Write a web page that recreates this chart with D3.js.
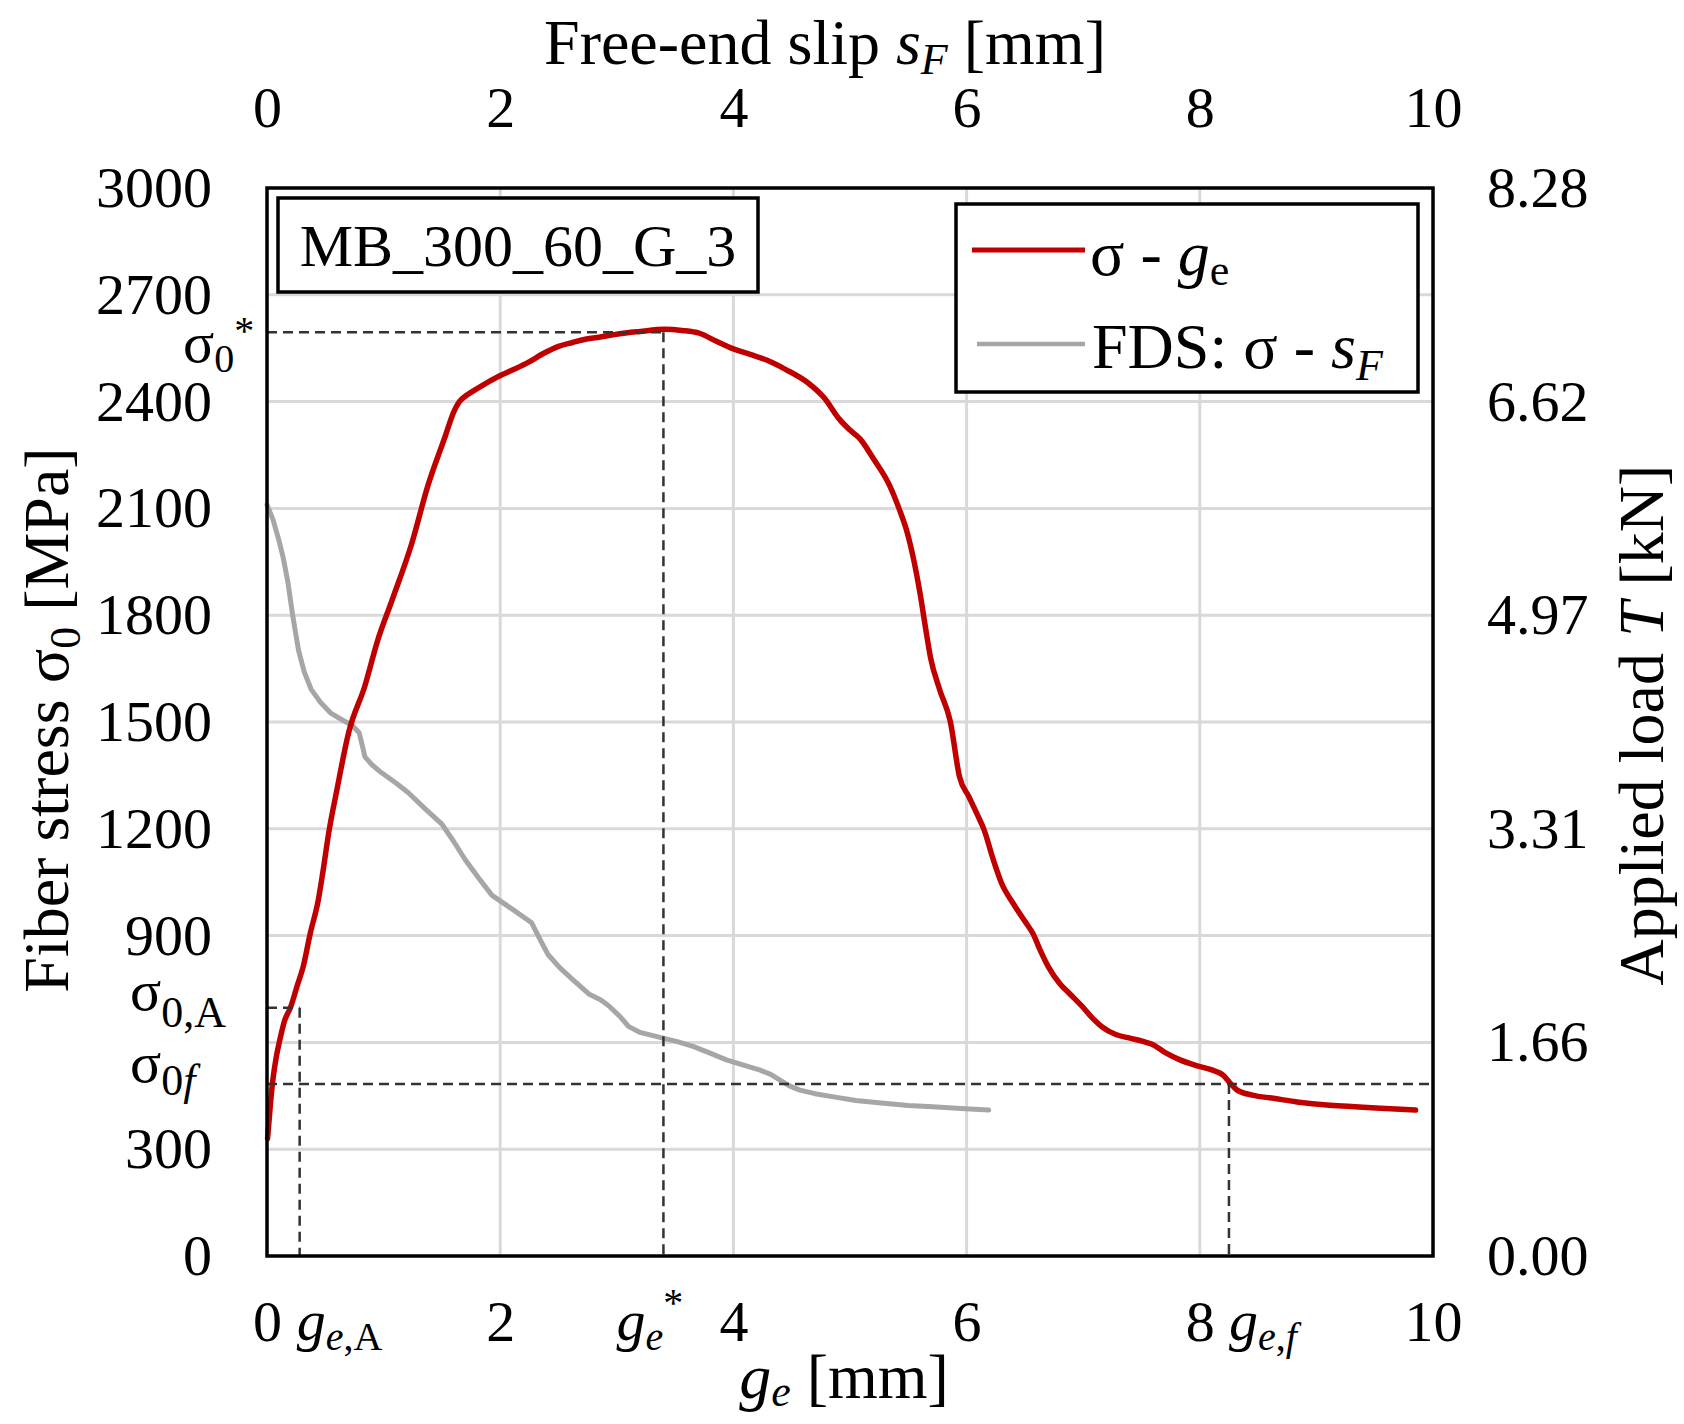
<!DOCTYPE html>
<html>
<head>
<meta charset="utf-8">
<script src="https://cdn.jsdelivr.net/npm/d3@7"></script>
<style>
  body { margin: 0; background: #fff; }
  text { font-family: 'Liberation Serif', 'Times New Roman', serif; fill: #000; }
  .tick text { font-size: 58px; }
</style>
</head>
<body>
<svg id="chart" width="1684" height="1424"></svg>
<script>
// sigma - ge curve (red)
var geVals = [0.005, 0.03, 0.05, 0.08, 0.11, 0.15, 0.20, 0.26, 0.31, 0.37, 0.44, 0.48, 0.53, 0.60, 0.70, 0.84, 0.95, 1.07, 1.24, 1.38, 1.53, 1.60, 1.65, 1.70, 1.76, 1.87, 1.98, 2.10, 2.24, 2.37, 2.50, 2.62, 2.73, 2.87, 3.01, 3.20, 3.41, 3.56, 3.71, 3.85, 4.00, 4.15, 4.29, 4.45, 4.63, 4.78, 4.91, 5.00, 5.09, 5.20, 5.34, 5.42, 5.49, 5.55, 5.60, 5.65, 5.69, 5.77, 5.86, 5.94, 6.02, 6.09, 6.15, 6.23, 6.30, 6.40, 6.50, 6.57, 6.63, 6.70, 6.80, 6.88, 7.00, 7.08, 7.16, 7.28, 7.40, 7.52, 7.59, 7.70, 7.83, 7.97, 8.11, 8.20, 8.27, 8.32, 8.45, 8.63, 8.85, 9.09, 9.30, 9.55, 9.85];
var geStress = [330, 430, 494, 560, 607, 660, 697, 760, 812, 905, 1000, 1080, 1190, 1310, 1470, 1602, 1730, 1840, 2000, 2164, 2304, 2370, 2400, 2415, 2428, 2450, 2470, 2488, 2510, 2535, 2555, 2566, 2575, 2582, 2590, 2597, 2603, 2600, 2592, 2570, 2548, 2532, 2516, 2490, 2455, 2410, 2350, 2320, 2294, 2240, 2164, 2100, 2033, 1950, 1863, 1760, 1682, 1590, 1502, 1345, 1290, 1241, 1197, 1112, 1047, 990, 940, 905, 860, 813, 765, 738, 698, 668, 644, 622, 612, 602, 595, 572, 551, 535, 522, 508, 482, 466, 452, 443, 432, 424, 420, 415, 410];

// FDS: sigma - sF curve (grey)
var sfVals = [0.00, 0.01, 0.05, 0.10, 0.14, 0.18, 0.22, 0.27, 0.32, 0.38, 0.46, 0.55, 0.65, 0.73, 0.79, 0.82, 0.84, 0.90, 0.98, 1.10, 1.21, 1.35, 1.50, 1.60, 1.70, 1.82, 1.93, 2.10, 2.27, 2.34, 2.41, 2.51, 2.61, 2.76, 2.86, 2.93, 3.03, 3.10, 3.20, 3.37, 3.52, 3.66, 3.80, 3.94, 4.08, 4.23, 4.32, 4.40, 4.48, 4.57, 4.70, 4.86, 5.05, 5.29, 5.50, 5.71, 5.95, 6.19];
var sfStress = [2110, 2102, 2070, 2013, 1960, 1891, 1800, 1702, 1640, 1591, 1555, 1524, 1505, 1491, 1470, 1430, 1402, 1380, 1358, 1330, 1302, 1258, 1213, 1165, 1113, 1060, 1013, 975, 936, 890, 847, 810, 780, 736, 720, 703, 672, 645, 628, 614, 602, 588, 570, 551, 537, 522, 510, 494, 478, 466, 456, 447, 437, 429, 423, 419, 414, 410];

// axes
var stressTicks = [0, 300, 900, 1200, 1500, 1800, 2100, 2400, 2700, 3000];
var stressGrid = [300, 600, 900, 1200, 1500, 1800, 2100, 2400, 2700];
var slipTicks = [0, 2, 4, 6, 8, 10];
var slipGrid = [2, 4, 6, 8];
var loadTicks = [0, 1.66, 3.31, 4.97, 6.62, 8.28];

// characteristic points
var sigmaStar = 2595, geStar = 3.40;
var sigmaA = 697, geA = 0.28;
var sigmaF = 483, geF = 8.25;

var specimen = 'MB_300_60_G_3';

var svg = d3.select('#chart');
var pl = 267, pr = 1433, pt = 188, pb = 1256;

var x = d3.scaleLinear().domain([0, 10]).range([pl, pr]);
var y = d3.scaleLinear().domain([0, 3000]).range([pb, pt]);
var yLoad = d3.scaleLinear().domain([0, 8.28]).range([pb, pt]);

svg.append('rect').attr('width', 1684).attr('height', 1424).attr('fill', '#fff');

// grid
svg.append('g').selectAll('line').data(stressGrid).enter().append('line')
    .attr('x1', pl).attr('x2', pr)
    .attr('y1', function(d) { return y(d); }).attr('y2', function(d) { return y(d); })
    .attr('stroke', '#d9d9d9').attr('stroke-width', 3);
svg.append('g').selectAll('line').data(slipGrid).enter().append('line')
    .attr('y1', pt).attr('y2', pb)
    .attr('x1', function(d) { return x(d); }).attr('x2', function(d) { return x(d); })
    .attr('stroke', '#d9d9d9').attr('stroke-width', 3);

// curves
var line = d3.line()
    .x(function(d) { return x(d[0]); })
    .y(function(d) { return y(d[1]); });

svg.append('path')
    .datum(sfVals.map(function(v, i) { return [v, sfStress[i]]; }))
    .attr('d', line.curve(d3.curveLinear))
    .attr('fill', 'none').attr('stroke', '#a6a6a6').attr('stroke-width', 5)
    .attr('stroke-linejoin', 'round').attr('stroke-linecap', 'round');

svg.append('path')
    .datum(geVals.map(function(v, i) { return [v, geStress[i]]; }))
    .attr('d', line.curve(d3.curveMonotoneX))
    .attr('fill', 'none').attr('stroke', '#c00000').attr('stroke-width', 5.5)
    .attr('stroke-linejoin', 'round').attr('stroke-linecap', 'round');

// dashed guide lines
var guides = [
    [0, sigmaStar, geStar, sigmaStar], [geStar, sigmaStar, geStar, 0],
    [0, sigmaA, geA, sigmaA], [geA, sigmaA, geA, 0],
    [0, sigmaF, 10, sigmaF], [geF, sigmaF, geF, 0]
];
svg.append('g').selectAll('line').data(guides).enter().append('line')
    .attr('x1', function(d) { return x(d[0]); }).attr('y1', function(d) { return y(d[1]); })
    .attr('x2', function(d) { return x(d[2]); }).attr('y2', function(d) { return y(d[3]); })
    .attr('stroke', '#333').attr('stroke-width', 2.5).attr('stroke-dasharray', '10,6');

// frame
svg.append('rect').attr('x', pl).attr('y', pt)
    .attr('width', pr - pl).attr('height', pb - pt)
    .attr('fill', 'none').attr('stroke', '#000').attr('stroke-width', 3.5);

// axes (labels only)
function clean(g) {
    g.select('.domain').remove();
    g.attr('font-size', null).attr('font-family', null);
}
svg.append('g').attr('transform', 'translate(' + pl + ',0)')
    .call(d3.axisLeft(y).tickValues(stressTicks).tickSize(0).tickPadding(55).tickFormat(d3.format('d')))
    .call(clean);
svg.append('g').attr('transform', 'translate(' + pr + ',0)')
    .call(d3.axisRight(yLoad).tickValues(loadTicks).tickSize(0).tickPadding(54).tickFormat(d3.format('.2f')))
    .call(clean);
svg.append('g').attr('transform', 'translate(0,' + pb + ')')
    .call(d3.axisBottom(x).tickValues(slipTicks).tickSize(0).tickPadding(44))
    .call(clean);
svg.append('g').attr('transform', 'translate(0,' + pt + ')')
    .call(d3.axisTop(x).tickValues(slipTicks).tickSize(0).tickPadding(61))
    .call(clean);

// rich text helper
function rich(px, py, parts, opts) {
    opts = opts || {};
    var t = svg.append('text').attr('x', px).attr('y', py)
        .attr('font-size', opts.size || 58)
        .attr('text-anchor', opts.anchor || 'start');
    if (opts.rotate) t.attr('transform', 'rotate(' + opts.rotate + ',' + px + ',' + py + ')');
    var shift = 0;
    parts.forEach(function(p) {
        var ts = t.append('tspan').text(p.t);
        if (p.i) ts.attr('font-style', 'italic');
        if (p.s) ts.attr('font-size', p.s);
        var want = p.dy || 0;
        ts.attr('dy', want - shift);
        shift = want;
    });
    return t;
}

// left special labels
rich(183, y(sigmaStar) + 30, [{t: 'σ'}, {t: '0', s: 40, dy: 10}, {t: '*', s: 40, dy: -18}]);
rich(130, y(sigmaA) + 2, [{t: 'σ'}, {t: '0,A', s: 44, dy: 17}]);
rich(130, y(sigmaF) - 2, [{t: 'σ'}, {t: '0', s: 44, dy: 13}, {t: 'f', s: 44, i: true, dy: 13}]);

// bottom special labels
rich(x(geA) - 3, 1340, [{t: 'g', i: true}, {t: 'e', s: 40, i: true, dy: 10}, {t: ',A', s: 40, dy: 10}]);
rich(x(geStar) - 47, 1340, [{t: 'g', i: true}, {t: 'e', s: 40, i: true, dy: 10}, {t: '*', s: 40, dy: -24}]);
rich(x(geF), 1340, [{t: 'g', i: true}, {t: 'e', s: 40, i: true, dy: 10}, {t: ',', s: 40, dy: 10}, {t: 'f', s: 40, i: true, dy: 10}]);

// axis titles
rich(825, 64, [{t: 'Free-end slip '}, {t: 's', i: true}, {t: 'F', s: 44, i: true, dy: 10}, {t: ' [mm]'}], {size: 64, anchor: 'middle'});
rich(844, 1398, [{t: 'g', i: true}, {t: 'e', s: 44, i: true, dy: 8}, {t: ' [mm]'}], {size: 64, anchor: 'middle'});
rich(68, 720, [{t: 'Fiber stress σ'}, {t: '0', s: 44, dy: 12}, {t: ' [MPa]'}], {size: 64, anchor: 'middle', rotate: -90});
rich(1663, 725, [{t: 'Applied load '}, {t: 'T', i: true}, {t: ' [kN]'}], {size: 64, anchor: 'middle', rotate: -90});

// specimen label
svg.append('rect').attr('x', 278).attr('y', 198).attr('width', 480).attr('height', 94)
    .attr('fill', '#fff').attr('stroke', '#000').attr('stroke-width', 3.5);
svg.append('text').attr('x', 518).attr('y', 266).attr('text-anchor', 'middle')
    .attr('font-size', 60).text(specimen);

// legend
svg.append('rect').attr('x', 956).attr('y', 204).attr('width', 462).attr('height', 188)
    .attr('fill', '#fff').attr('stroke', '#000').attr('stroke-width', 3.5);
svg.append('line').attr('x1', 972).attr('x2', 1085).attr('y1', 250).attr('y2', 250)
    .attr('stroke', '#c00000').attr('stroke-width', 5);
svg.append('line').attr('x1', 977).attr('x2', 1085).attr('y1', 344).attr('y2', 344)
    .attr('stroke', '#a6a6a6').attr('stroke-width', 4.5);
rich(1090, 275, [{t: 'σ - '}, {t: 'g', i: true}, {t: 'e', s: 44, dy: 10}], {size: 64});
rich(1092, 368, [{t: 'FDS: σ - '}, {t: 's', i: true}, {t: 'F', s: 44, i: true, dy: 12}], {size: 64});
</script>
</body>
</html>
